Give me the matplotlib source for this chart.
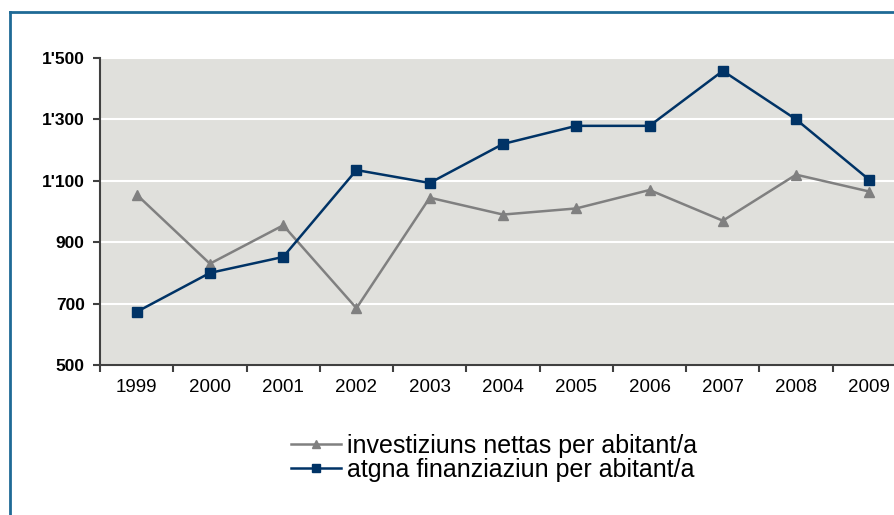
import matplotlib.pyplot as plt
from matplotlib.lines import Line2D
from matplotlib.ticker import FuncFormatter

years = ["1999", "2000", "2001", "2002", "2003", "2004", "2005", "2006", "2007", "2008", "2009"]
investiziuns = [1055, 830, 955, 685, 1045, 990, 1010, 1070, 970, 1120, 1065]
finanziaziun = [673, 800, 852, 1135, 1093, 1220, 1279, 1279, 1458, 1300, 1103]
label_inv = "investiziuns nettas per abitant/a"
label_fin = "atgna finanziaziun per abitant/a"

plt.rcParams["font.family"] = ["Liberation Sans", "DejaVu Sans"]

fig = plt.figure(figsize=(8.95, 5.15), dpi=100)
ax = fig.add_axes([100 / 895, 1 - 365 / 515, 806 / 895, 307 / 515])
ax.set_facecolor("#e0e0dc")

x = list(range(len(years)))
ax.plot(x, investiziuns, color="#808080", lw=1.8, marker="^", ms=7,
        label=label_inv, zorder=3)
ax.plot(x, finanziaziun, color="#003366", lw=1.8, marker="s", ms=7,
        label=label_fin, zorder=4)

ax.set_xlim(-0.5, len(years) - 0.5)
ax.set_ylim(500, 1500)
ax.set_yticks([500, 700, 900, 1100, 1300, 1500])
ax.yaxis.set_major_formatter(FuncFormatter(lambda v, p: f"{int(v):,}".replace(",", "'")))
ax.grid(axis="y", color="white", lw=1.5)
ax.set_axisbelow(True)

# category labels centred, ticks on the boundaries
ax.set_xticks([i - 0.5 for i in range(len(years) + 1)])
ax.set_xticklabels([])
ax.set_xticks(x, minor=True)
ax.set_xticklabels(years, minor=True, fontsize=13.5)
ax.tick_params(axis="x", which="minor", length=0, pad=10)
ax.tick_params(axis="x", which="major", length=5, width=1.5, color="#404040")
ax.tick_params(axis="y", length=5, width=1.5, color="#404040", pad=6)
for lbl in ax.get_yticklabels():
    lbl.set_fontweight("bold")
    lbl.set_fontsize(12.5)

for side in ["top", "right"]:
    ax.spines[side].set_visible(False)
for side in ["left", "bottom"]:
    ax.spines[side].set_color("#404040")
    ax.spines[side].set_linewidth(1.5)

fig.legend(loc="center", bbox_to_anchor=(0.552, 0.111), frameon=False,
           fontsize=18, handlelength=2.0, handletextpad=0.25, labelspacing=0.0,
           borderaxespad=0, markerscale=0.8)

# outer frame, cut off at the right and bottom
fig.add_artist(Line2D([10 / 895, 10 / 895], [-0.1, 1 - 12 / 515],
                      transform=fig.transFigure, color="#1f6a96", lw=2))
fig.add_artist(Line2D([10 / 895, 1.1], [1 - 12 / 515, 1 - 12 / 515],
                      transform=fig.transFigure, color="#1f6a96", lw=2))

fig.savefig("out.png", dpi=100)
